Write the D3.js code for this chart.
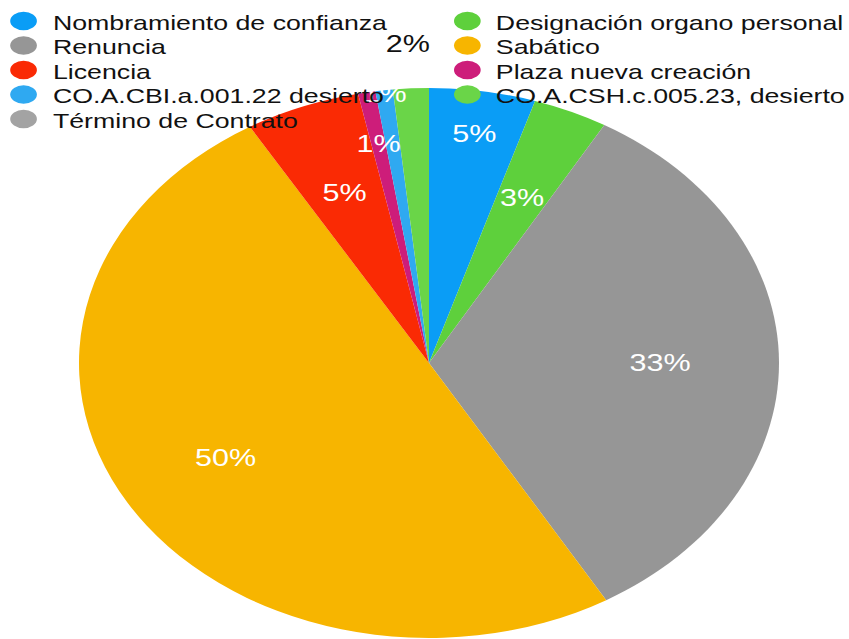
<!DOCTYPE html>
<html>
<head>
<meta charset="utf-8">
<script src="https://cdn.jsdelivr.net/npm/d3@7"></script>
<style>
  body { margin: 0; background: #fff; }
  svg { display: block; font-family: "Liberation Sans", Arial, Helvetica, sans-serif; }
</style>
</head>
<body>
<div class="chart"></div>
<script>
// categories in legend order (row by row, two columns)
var categories = [
    "Nombramiento de confianza",
    "Designación organo personal",
    "Renuncia",
    "Sabático",
    "Licencia",
    "Plaza nueva creación",
    "CO.A.CBI.a.001.22 desierto",
    "CO.A.CSH.c.005.23, desierto",
    "Término de Contrato"
];
// share of each category, in percent
var values = [4.9, 3.45, 33.2, 49.9, 5.3, 0.8, 0.8, 1.65, 0];
var colors = ["#0a9df6", "#5ed03c", "#969696", "#f7b500", "#fa2a04", "#cd1d7a", "#2fa9f1", "#6ad548", "#a3a3a3"];

function init() {
    var w = 849;
    var h = 639;
    var sx = 350 / 275; // the whole picture is stretched sideways
    var radius = 275;
    var cx = 429 / sx;
    var cy = 363;

    // radial position of each label, as a fraction of the radius
    var labelPos = [0.845, 0.658, 0.66, 0.675, 0.665, 0.81, 0.99, 1.164, 0.7];
    var labelColor = ["#fff", "#fff", "#fff", "#fff", "#fff", "#fff", "#fff", "#111", "#fff"];

    var svg = d3.select(".chart")
        .append("svg")
        .attr("width", w)
        .attr("height", h);

    var root = svg.append("g")
        .attr("transform", "scale(" + sx + ",1)");

    var pie = d3.pie().sort(null);
    var arc = d3.arc().innerRadius(0).outerRadius(radius);

    var slices = root.append("g")
        .attr("transform", "translate(" + cx + "," + cy + ")");

    var arcs = pie(values);

    slices.selectAll("path")
        .data(arcs)
        .enter()
        .append("path")
        .attr("fill", function(d, i) { return colors[i]; })
        .attr("d", arc);

    slices.selectAll("text")
        .data(arcs.filter(function(d) { return d.value > 0; }))
        .enter()
        .append("text")
        .attr("transform", function(d) {
            var r = radius * labelPos[d.index];
            var a = d3.arc().innerRadius(r).outerRadius(r);
            return "translate(" + a.centroid(d) + ")";
        })
        .attr("text-anchor", "middle")
        .attr("dy", "0.36em")
        .attr("font-size", 24)
        .attr("fill", function(d) { return labelColor[d.index]; })
        .text(function(d) { return Math.round(d.value) + "%"; });

    // legend, two columns
    var legend = root.append("g");
    var colX = [18.5, 367.2];
    var textX = [41.6, 389.6];
    var rowY = d3.scaleLinear().domain([0, 1]).range([21, 45.5]);

    var items = legend.selectAll("g")
        .data(categories)
        .enter()
        .append("g")
        .attr("transform", function(d, i) {
            return "translate(0," + rowY(Math.floor(i / 2)) + ")";
        });

    items.append("ellipse")
        .attr("cx", function(d, i) { return colX[i % 2]; })
        .attr("cy", 0)
        .attr("rx", 10.5)
        .attr("ry", 9.2)
        .attr("fill", function(d, i) { return colors[i]; });

    items.append("text")
        .attr("x", function(d, i) { return textX[i % 2]; })
        .attr("y", 8.5)
        .attr("font-size", 21)
        .attr("fill", "#111")
        .text(function(d) { return d; });
}

init()
</script>
</body>
</html>
